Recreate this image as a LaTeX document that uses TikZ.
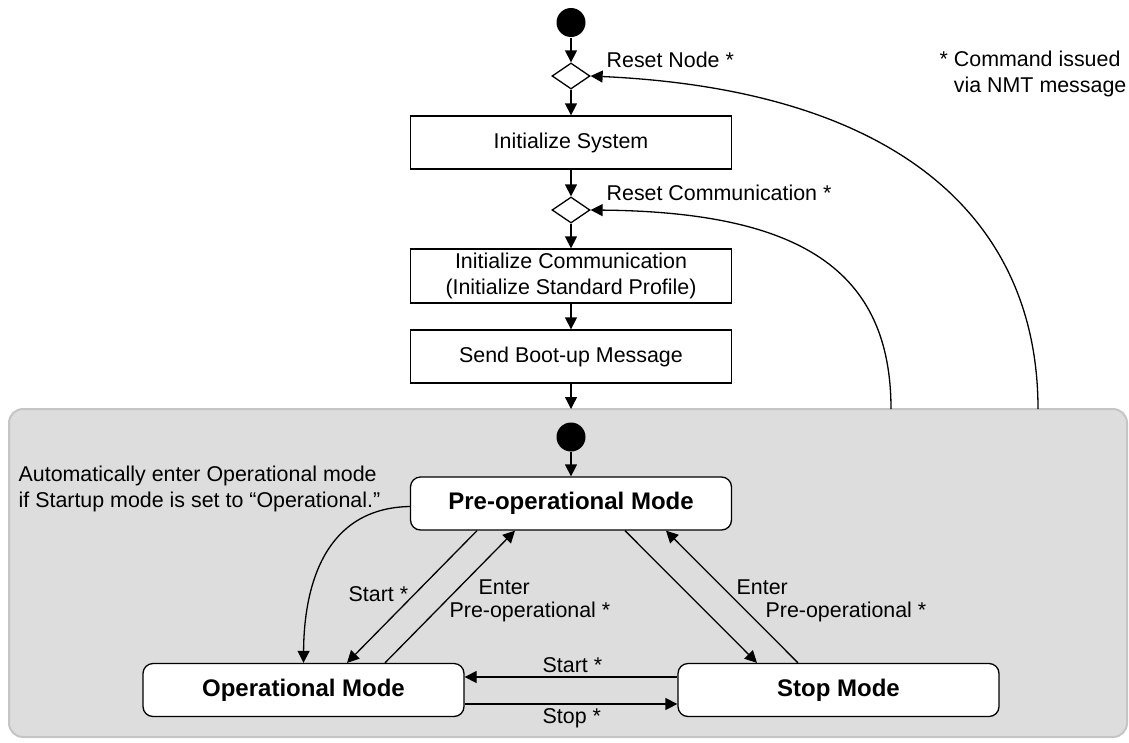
\documentclass[tikz,border=0pt]{standalone}
\usepackage{fontspec}
\setmainfont{Liberation Sans}
\usetikzlibrary{shapes.geometric,arrows.meta}
\definecolor{graybg}{HTML}{DCDDDC}
\definecolor{grayline}{HTML}{C4C5C4}
\begin{document}
\begin{tikzpicture}[x=1pt,y=-1pt,
  font=\fontsize{21.4}{26}\selectfont,
  line width=1.3pt,
  arr/.style={-{Triangle[length=12pt,width=12pt]}},
  box/.style={draw,fill=white,minimum width=321pt,minimum height=53pt,inner sep=0pt,align=center},
  mode/.style={box,rounded corners=10pt,font=\fontsize{24}{28}\selectfont\bfseries},
  dot/.style={circle,fill=black,minimum size=29pt,inner sep=0pt},
  dec/.style={diamond,draw,fill=white,minimum width=38pt,minimum height=26pt,inner sep=0pt},
  lbl/.style={anchor=west,inner sep=0pt,align=left}]
\useasboundingbox (0,0) rectangle (1129,742);
% grey region
\draw[draw=grayline,fill=graybg,line width=2pt,rounded corners=14pt] (9,409) rectangle (1127,737);
% nodes
\node[dot] (s1) at (571,22.5) {};
\node[dec] (d1) at (571,76) {};
\node[box] (sys) at (571,142.5) {Initialize System};
\node[dec] (d2) at (571,210) {};
\node[box,minimum height=54pt] (comm) at (571,276) {Initialize Communication\\(Initialize Standard Profile)};
\node[box] (boot) at (571,356.5) {Send Boot-up Message};
\coordinate (gtop) at (571,409);
\node[dot] (s2) at (571,437) {};
\node[mode] (pre) at (571,503.5) {Pre-operational Mode};
\node[mode] (op) at (303.5,690) {Operational Mode};
\node[mode] (stop) at (838.5,690) {Stop Mode};
\coordinate (rc) at (891,409);
\coordinate (rn) at (1038,409);
% connectors
\draw[arr] (s1) -- (d1);
\draw[arr] (d1) -- (sys);
\draw[arr] (sys) -- (d2);
\draw[arr] (d2) -- (comm);
\draw[arr] (comm) -- (boot);
\draw[arr] (boot) -- (gtop);
\draw[arr] (s2) -- (pre);
\draw[arr] (rc) .. controls (891,270) and (800,212) .. (d2.east);
\draw[arr] (rn) .. controls (1038,220) and (900,90) .. (d1.east);
\draw[arr] ([yshift=-3pt]pre.west) .. controls (325,508) and (304,585) .. (op.north);
\draw[arr] ([xshift=-94pt]pre.south) -- ([xshift=43.5pt]op.north);
\draw[arr] ([xshift=81.5pt]op.north) -- ([xshift=-56pt]pre.south);
\draw[arr] ([xshift=54pt]pre.south) -- ([xshift=-81.5pt]stop.north);
\draw[arr] ([xshift=-40.5pt]stop.north) -- ([xshift=95pt]pre.south);
\draw[arr] ([yshift=13pt]stop.west) -- ([yshift=13pt]op.east);
\draw[arr] ([yshift=-14pt]op.east) -- ([yshift=-14pt]stop.west);
% labels
\node[lbl] (lrn) at (606,60) {Reset Node *};
\node[lbl] (lrc) at (606,193) {Reset Communication *};
\node[lbl] (note) at (939,74) {* Command issued\\\hphantom{* }via NMT message};
\node[lbl] (auto) at (18,489) {Automatically enter Operational mode\\if Startup mode is set to “Operational.”};
\node[lbl] (lstart1) at (348,594) {Start *};
\node[lbl] (lenter1) at (478,587) {Enter};
\node[lbl] (lpre1) at (449,612) {Pre-operational *};
\node[lbl] (lenter2) at (736,587) {Enter};
\node[lbl] (lpre2) at (765,612) {Pre-operational *};
\node[lbl] (lstart2) at (542,665) {Start *};
\node[lbl] (lstop) at (542,718) {Stop *};
\end{tikzpicture}
\end{document}
